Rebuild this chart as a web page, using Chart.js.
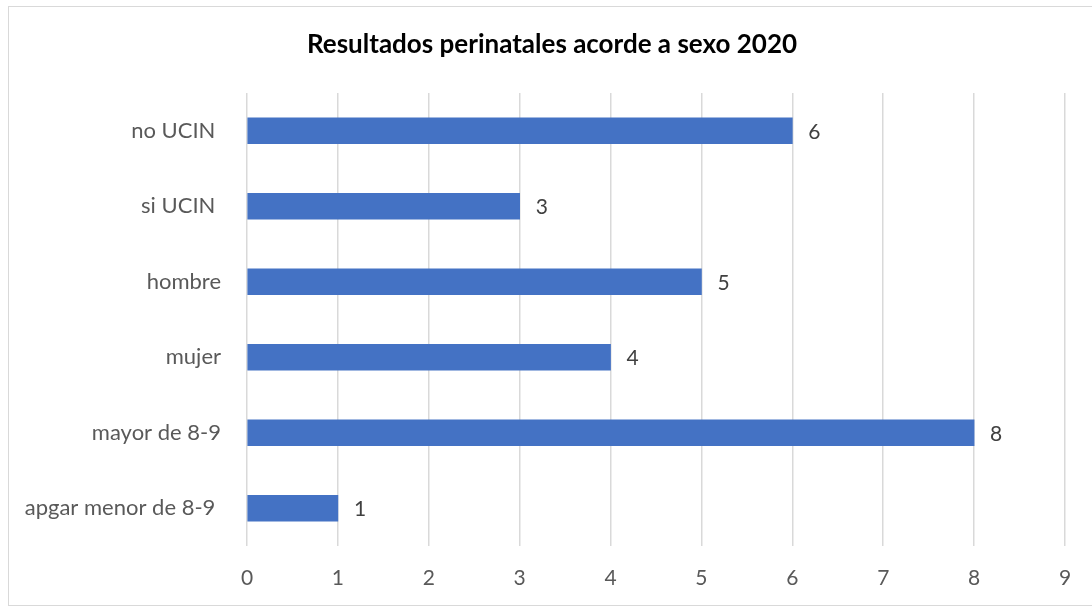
<!DOCTYPE html>
<html><head><meta charset="utf-8">
<script src="https://cdn.jsdelivr.net/npm/chart.js@4/dist/chart.umd.min.js"></script>
<style>
html,body{margin:0;padding:0;background:#fff;}
#wrap{position:relative;width:1092px;height:609px;}
#frame{position:absolute;left:8px;top:6px;width:1090px;height:600px;border:1.5px solid #d9d9d9;box-sizing:border-box;pointer-events:none;}
canvas{position:absolute;left:0;top:0;}
</style></head>
<body><div id="wrap"><canvas id="c" width="1092" height="609"></canvas><div id="frame"></div></div>
<script>
const categories = ["no UCIN ", "si UCIN ", "hombre", "mujer", "mayor de 8-9", "apgar menor de 8-9 "];
const values = [6, 3, 5, 4, 8, 1];
const xTicks = [0,1,2,3,4,5,6,7,8,9];
const titleText = "Resultados perinatales acorde a sexo 2020";

const FONT = "Lato, 'Open Sans', sans-serif";

const valueLabels = {
  id: 'valueLabels',
  afterDatasetsDraw(chart) {
    const ctx = chart.ctx;
    const meta = chart.getDatasetMeta(0);
    ctx.save();
    ctx.font = "21px " + FONT;
    ctx.fillStyle = "#404040";
    ctx.textAlign = "left";
    ctx.textBaseline = "middle";
    meta.data.forEach((bar, i) => {
      ctx.fillText(String(values[i]), bar.x + 16, bar.y + 1);
    });
    ctx.restore();
  }
};

const frameTitle = {
  id: 'frameTitle',
  afterDraw(chart) {
    const ctx = chart.ctx;
    ctx.save();
    ctx.font = "bold 26px " + FONT;
    ctx.fillStyle = "#000";
    ctx.textAlign = "center";
    ctx.textBaseline = "middle";
    ctx.fillText(titleText, 552, 45);
    ctx.restore();
  }
};

new Chart(document.getElementById('c'), {
  type: 'bar',
  data: {
    labels: categories,
    datasets: [{
      data: values,
      backgroundColor: '#4472C4',
      borderWidth: 0,
      barThickness: 26
    }]
  },
  options: {
    indexAxis: 'y',
    responsive: false,
    animation: false,
    layout: { padding: { left: 0, right: 27, top: 93, bottom: 0 } },
    plugins: {
      legend: { display: false },
      tooltip: { enabled: false },
      title: { display: false }
    },
    scales: {
      x: {
        min: 0, max: 9,
        afterBuildTicks(s) { s.ticks = xTicks.map(v => ({ value: v })); },
        afterFit(s) { s.height = 63; },
        grid: { color: '#d9d9d9', lineWidth: 1.5, drawTicks: false },
        border: { display: false },
        ticks: { color: '#595959', font: { family: FONT, size: 21 }, padding: 20 }
      },
      y: {
        afterFit(s) { s.width = 247; },
        grid: { display: false },
        border: { display: false },
        ticks: { color: '#595959', font: { family: FONT, size: 22 }, padding: 18 }
      }
    }
  },
  plugins: [valueLabels, frameTitle]
});
</script></body></html>
